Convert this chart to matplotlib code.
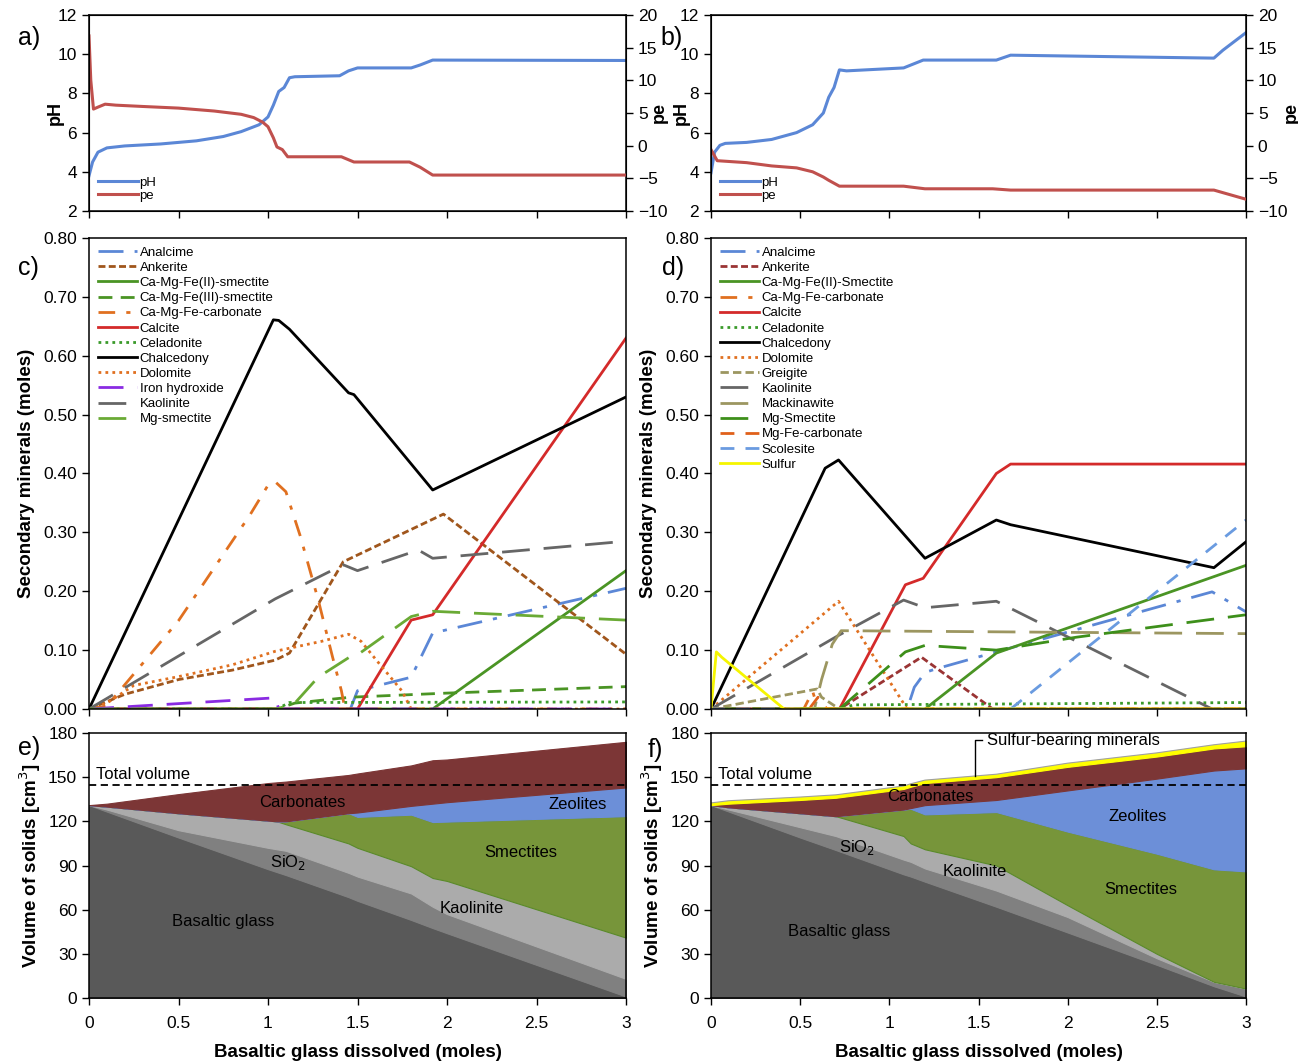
import matplotlib.pyplot as plt

plt.rcParams['font.family'] = ['Liberation Sans', 'DejaVu Sans']

# ---- a) pH / pe, case 1
a_ph_x = [0, 0.02, 0.05, 0.1, 0.2, 0.4, 0.6, 0.75, 0.85, 0.95, 1.0, 1.03, 1.06, 1.09, 1.12, 1.15, 1.4, 1.45, 1.5, 1.8, 1.85, 1.92, 3.0]
a_ph_y = [3.8, 4.5, 5.0, 5.22, 5.32, 5.42, 5.58, 5.8, 6.05, 6.4, 6.8, 7.4, 8.1, 8.3, 8.8, 8.85, 8.9, 9.15, 9.3, 9.3, 9.45, 9.7, 9.68]
a_pe_x = [0, 0.01, 0.025, 0.05, 0.09, 0.15, 0.3, 0.5, 0.7, 0.85, 0.92, 0.97, 1.0, 1.03, 1.05, 1.08, 1.11, 1.41, 1.48, 1.79, 1.85, 1.92, 3.0]
a_pe_y = [16.8, 10.0, 5.6, 5.9, 6.35, 6.2, 6.0, 5.75, 5.3, 4.8, 4.3, 3.6, 2.9, 1.2, -0.2, -0.6, -1.7, -1.7, -2.5, -2.5, -3.3, -4.5, -4.5]

# ---- b) pH / pe, case 2
b_ph_x = [0, 0.02, 0.05, 0.08, 0.2, 0.34, 0.48, 0.57, 0.63, 0.66, 0.69, 0.72, 0.76, 1.08, 1.19, 1.6, 1.68, 2.82, 2.87, 3.0]
b_ph_y = [3.95, 5.0, 5.35, 5.45, 5.5, 5.65, 6.0, 6.4, 7.0, 7.8, 8.3, 9.2, 9.15, 9.3, 9.7, 9.7, 9.95, 9.8, 10.2, 11.1]
b_pe_x = [0, 0.035, 0.2, 0.34, 0.48, 0.57, 0.63, 0.66, 0.72, 1.08, 1.2, 1.58, 1.68, 2.82, 3.0]
b_pe_y = [-0.6, -2.3, -2.6, -3.1, -3.4, -4.0, -4.8, -5.3, -6.2, -6.2, -6.6, -6.6, -6.8, -6.8, -8.2]

# ---- c) secondary minerals, case 1
c_analcime = ([0, 1.46, 1.5, 1.8, 1.92, 3.0], [0, 0, 0.031, 0.054, 0.129, 0.205])
c_ankerite = ([0, 0.2, 0.5, 0.8, 1.04, 1.12, 1.42, 1.98, 3.0], [0, 0.025, 0.05, 0.066, 0.083, 0.095, 0.25, 0.331, 0.093])
c_camgfe2 = ([0, 1.92, 3.0], [0, 0, 0.235])
c_camgfe3 = ([0, 1.05, 1.15, 1.46, 2.0, 3.0], [0, 0, 0.01, 0.02, 0.027, 0.038])
c_carbonate = ([0, 0.1, 0.5, 0.9, 1.0, 1.04, 1.1, 1.18, 1.28, 1.36, 1.41, 1.43, 3.0],
               [0, 0.005, 0.15, 0.33, 0.38, 0.386, 0.369, 0.294, 0.186, 0.089, 0.031, 0, 0])
c_calcite = ([0, 1.5, 1.8, 1.92, 3.0], [0, 0, 0.151, 0.16, 0.63])
c_celadonite = ([0, 1.05, 1.12, 3.0], [0, 0, 0.011, 0.012])
c_chalcedony = ([0, 1.03, 1.06, 1.12, 1.45, 1.48, 1.92, 3.0], [0, 0.661, 0.66, 0.645, 0.537, 0.534, 0.372, 0.53])
c_dolomite = ([0, 0.1, 0.25, 0.5, 0.8, 1.04, 1.3, 1.45, 1.52, 1.6, 1.75, 1.8, 3.0],
              [0, 0.01, 0.04, 0.055, 0.075, 0.098, 0.115, 0.127, 0.115, 0.085, 0.03, 0, 0])
c_ironhyd = ([0, 1.04, 1.06, 3.0], [0, 0.019, 0, 0])
c_kaolinite = ([0, 1.04, 1.42, 1.5, 1.84, 1.92, 3.0], [0, 0.187, 0.245, 0.235, 0.27, 0.256, 0.285])
c_mgsmectite = ([0, 1.05, 1.15, 1.28, 1.46, 1.5, 1.8, 1.92, 3.0], [0, 0, 0.01, 0.054, 0.089, 0.092, 0.157, 0.166, 0.151])

# ---- d) secondary minerals, case 2
d_analcime = ([0, 1.1, 1.14, 1.2, 1.26, 1.6, 2.81, 3.0], [0, 0, 0.037, 0.062, 0.068, 0.097, 0.199, 0.165])
d_ankerite = ([0, 0.72, 1.18, 1.58, 3.0], [0, 0, 0.088, 0, 0])
d_camgfe2 = ([0, 1.2, 1.6, 3.0], [0, 0, 0.095, 0.244])
d_carbonate = ([0, 0.52, 0.57, 0.6, 3.0], [0, 0, 0.03, 0, 0])
d_calcite = ([0, 0.72, 1.09, 1.19, 1.6, 1.68, 3.0], [0, 0, 0.211, 0.222, 0.40, 0.416, 0.416])
d_celadonite = ([0, 0.72, 0.8, 3.0], [0, 0, 0.007, 0.011])
d_chalcedony = ([0, 0.64, 0.715, 1.2, 1.6, 1.68, 2.82, 3.0], [0, 0.409, 0.423, 0.256, 0.321, 0.313, 0.24, 0.284])
d_dolomite = ([0, 0.715, 1.1, 3.0], [0, 0.183, 0, 0])
d_greigite = ([0, 0.595, 0.62, 0.72, 3.0], [0, 0.034, 0.02, 0, 0])
d_kaolinite = ([0, 0.715, 1.08, 1.2, 1.6, 2.81, 3.0], [0, 0.125, 0.185, 0.172, 0.183, 0, 0])
d_mackinawite = ([0, 0.58, 0.62, 0.68, 0.73, 3.0], [0, 0, 0.05, 0.11, 0.133, 0.128])
d_mgsmectite = ([0, 0.72, 1.09, 1.2, 1.6, 2.05, 3.0], [0, 0, 0.097, 0.108, 0.1, 0.122, 0.16])
d_mgfecarb = ([0, 0.55, 0.6, 0.65, 3.0], [0, 0, 0.02, 0, 0])
d_scolesite = ([0, 1.68, 3.0], [0, 0, 0.321])
d_sulfur = ([0, 0.03, 0.06, 0.41, 3.0], [0, 0.097, 0.088, 0, 0])

# ---- e) volume of solids, case 1 (cumulative tops)
e_x = [0, 0.1, 0.5, 1.0, 1.05, 1.1, 1.45, 1.5, 1.8, 1.92, 2.0, 3.0]
e_glass = [131, 126.6, 109, 87.5, 85.5, 83.5, 68.5, 66, 53, 47.5, 44, 1]
e_sio2 = [131, 128, 114, 102, 101, 100, 85, 82.5, 71, 62, 57, 13]
e_kaol = [131, 130, 125.5, 120.5, 120, 118, 105, 102, 89.5, 81.5, 79.5, 41]
e_smec = [131, 130, 125.5, 120.5, 120, 120, 125.5, 123, 124.5, 119.5, 119.8, 123.5]
e_zeol = [131, 130, 125.5, 120.5, 120, 120, 125.5, 126, 130.5, 132, 133, 143]
e_carb = [131, 132, 138.5, 146, 146.5, 147, 151.5, 152.5, 158, 161.5, 162, 174]

# ---- f) volume of solids, case 2 (cumulative tops)
f_x = [0, 0.1, 0.5, 0.7, 1.08, 1.12, 1.2, 1.6, 2.0, 2.5, 2.82, 3.0]
f_glass = [131, 126.6, 109, 100.5, 84, 82.5, 79, 62, 44.5, 22.5, 8, 1]
f_sio2 = [131, 128, 116, 110, 94, 92.5, 88, 73, 55, 27, 11, 6.4]
f_kaol = [131, 129.5, 125.5, 123.5, 110, 105, 101, 90, 63, 30, 11, 6.4]
f_smec = [131, 129.5, 125.5, 123.5, 128, 128.5, 124.7, 126.3, 113, 98, 87.4, 86]
f_zeol = [131, 129.5, 125.5, 123.5, 128, 129, 131, 134.5, 141, 149, 154.5, 156]
f_carb = [131, 132, 134.5, 136, 142, 143.5, 146, 150, 157, 164, 169.5, 171]
f_sulf = [132.5, 134, 136.5, 138, 144, 145.5, 148, 152, 159.5, 166.5, 172, 174.5]

total_volume = 145

BLUE = '#5b87d6'
RED = '#c0504d'
GREEN = '#4a9424'
LGREEN = '#6aaa35'
ORANGE = '#e07020'

fig = plt.figure(figsize=(12.98, 10.63), dpi=100)
W, H = 1298.0, 1063.0


def box(x0, x1, y0, y1):
    return [x0 / W, 1 - y1 / H, (x1 - x0) / W, (y1 - y0) / H]


def style(ax, xlabels=False):
    ax.set_xlim(0, 3)
    ax.set_xticks([0, 0.5, 1, 1.5, 2, 2.5, 3])
    ax.tick_params(direction='out', length=5, width=1, labelsize=12.5)
    if xlabels:
        ax.set_xticklabels(['0', '0.5', '1', '1.5', '2', '2.5', '3'])
        ax.tick_params(axis='x', pad=8)
        ax.set_xlabel('Basaltic glass dissolved (moles)', fontsize=13.5, fontweight='bold', labelpad=9)
    else:
        ax.set_xticklabels([])
    for s in ax.spines.values():
        s.set_linewidth(1.1)


# top row
cols = [(89, 626), (711, 1246)]
ph_lab = [57, 683]
pe_lab = [651, 1283]
for i, (phx, phy, pex, pey) in enumerate([(a_ph_x, a_ph_y, a_pe_x, a_pe_y),
                                          (b_ph_x, b_ph_y, b_pe_x, b_pe_y)]):
    x0, x1 = cols[i]
    ax = fig.add_axes(box(x0, x1, 15, 211))
    ax2 = ax.twinx()
    l1, = ax.plot(phx, phy, color=BLUE, lw=2.2)
    l2, = ax2.plot(pex, pey, color=RED, lw=2.2)
    ax.set_ylim(2, 12)
    ax.set_yticks(range(2, 13, 2))
    ax2.set_ylim(-10, 20)
    ax2.set_yticks(range(-10, 21, 5))
    style(ax)
    ax2.tick_params(direction='out', length=5, width=1, labelsize=12.5)
    ax.set_ylabel('pH', fontsize=13, fontweight='bold')
    ax2.set_ylabel('pe', fontsize=13, fontweight='bold')
    ax.yaxis.set_label_coords((ph_lab[i] + 7 - x0) / (x1 - x0), 0.5)
    ax2.yaxis.set_label_coords((pe_lab[i] - x0) / (x1 - x0), 0.5)
    ax.legend([l1, l2], ['pH', 'pe'], loc='lower left', frameon=False, fontsize=9.5,
              handlelength=3.0, handletextpad=0.1, labelspacing=0.05, borderaxespad=0.3)

# middle row
c_series = [
    ('Analcime', c_analcime, dict(color=BLUE, ls=(0, (9, 4, 1.5, 4)))),
    ('Ankerite', c_ankerite, dict(color='#a0561c', ls=(0, (2.5, 1.2)))),
    ('Ca-Mg-Fe(II)-smectite', c_camgfe2, dict(color=GREEN, ls='-')),
    ('Ca-Mg-Fe(III)-smectite', c_camgfe3, dict(color=GREEN, ls=(0, (5, 3)))),
    ('Ca-Mg-Fe-carbonate', c_carbonate, dict(color=ORANGE, ls=(0, (6, 4, 1.5, 4)))),
    ('Calcite', c_calcite, dict(color='#d42a2a', ls='-')),
    ('Celadonite', c_celadonite, dict(color='#3a9a2a', ls=(0, (1, 1.5)))),
    ('Chalcedony', c_chalcedony, dict(color='black', ls='-')),
    ('Dolomite', c_dolomite, dict(color=ORANGE, ls=(0, (1, 1.5)))),
    ('Iron hydroxide', c_ironhyd, dict(color='#8a2be2', ls=(0, (9, 5)))),
    ('Kaolinite', c_kaolinite, dict(color='#666666', ls=(0, (10, 5)))),
    ('Mg-smectite', c_mgsmectite, dict(color=LGREEN, ls=(0, (10, 5)))),
]
d_series = [
    ('Analcime', d_analcime, dict(color=BLUE, ls=(0, (9, 4, 1.5, 4)))),
    ('Ankerite', d_ankerite, dict(color='#9a3434', ls=(0, (2.5, 1.2)))),
    ('Ca-Mg-Fe(II)-Smectite', d_camgfe2, dict(color=GREEN, ls='-')),
    ('Ca-Mg-Fe-carbonate', d_carbonate, dict(color=ORANGE, ls=(0, (6, 4, 1.5, 4)))),
    ('Calcite', d_calcite, dict(color='#d42a2a', ls='-')),
    ('Celadonite', d_celadonite, dict(color='#3a9a2a', ls=(0, (1, 1.5)))),
    ('Chalcedony', d_chalcedony, dict(color='black', ls='-')),
    ('Dolomite', d_dolomite, dict(color=ORANGE, ls=(0, (1, 1.5)))),
    ('Greigite', d_greigite, dict(color='#9c9660', ls=(0, (3, 1.5)))),
    ('Kaolinite', d_kaolinite, dict(color='#666666', ls=(0, (10, 5)))),
    ('Mackinawite', d_mackinawite, dict(color='#9c9660', ls=(0, (10, 5)))),
    ('Mg-Smectite', d_mgsmectite, dict(color='#3d8f1a', ls=(0, (10, 5)))),
    ('Mg-Fe-carbonate', d_mgfecarb, dict(color='#e0601a', ls=(0, (5, 4)))),
    ('Scolesite', d_scolesite, dict(color='#6a9be0', ls=(0, (5, 4)))),
    ('Sulfur', d_sulfur, dict(color='#f5f500', ls='-')),
]
for i, series in enumerate([c_series, d_series]):
    ax = fig.add_axes(box(cols[i][0], cols[i][1], 238, 709))
    for name, (xs, ys), kw in series:
        ax.plot(xs, ys, lw=2, label=name, **kw)
    ax.set_ylim(0, 0.8)
    ax.set_yticks([k / 10 for k in range(9)])
    ax.set_yticklabels(['%.2f' % (k / 10) for k in range(9)])
    style(ax)
    ax.set_ylabel('Secondary minerals (moles)', fontsize=13.5, fontweight='bold', labelpad=6)
    ax.legend(loc='upper left', frameon=False, fontsize=9.5, handlelength=3.0,
              handletextpad=0.2, labelspacing=0.22, borderaxespad=0.25)

# bottom row
layer_cols = ['#595959', '#808080', '#ababab', '#77953a', '#6c8fd8', '#7c3636', '#ffff00']
for i, (xs, tops) in enumerate([(e_x, [e_glass, e_sio2, e_kaol, e_smec, e_zeol, e_carb]),
                                (f_x, [f_glass, f_sio2, f_kaol, f_smec, f_zeol, f_carb, f_sulf])]):
    ax = fig.add_axes(box(cols[i][0], cols[i][1], 733, 998))
    lower = [0] * len(xs)
    for k, top in enumerate(tops):
        ec = '#5a8a2a' if k == 3 else layer_cols[k]
        ax.fill_between(xs, lower, top, facecolor=layer_cols[k], edgecolor=ec, lw=0.8)
        lower = top
    if i == 1:
        ax.plot(xs, f_sulf, color='#a0a0a0', lw=0.8)
    ax.axhline(total_volume, color='black', ls=(0, (4, 2.5)), lw=1.3)
    ax.set_ylim(0, 180)
    ax.set_yticks(range(0, 181, 30))
    style(ax, xlabels=True)
    ax.set_ylabel('Volume of solids [cm$^3$]', fontsize=13.5, fontweight='bold')
    ax.text(0.04, 147, 'Total volume', fontsize=12, va='bottom')

ax_e, ax_f = fig.axes[-2], fig.axes[-1]
for ax, items in [(ax_e, [('Carbonates', 1.19, 133), ('Zeolites', 2.73, 131.5), ('Smectites', 2.41, 98.5),
                          ('SiO$_2$', 1.11, 92), ('Kaolinite', 2.14, 61), ('Basaltic glass', 0.75, 52)]),
                  (ax_f, [('Carbonates', 1.23, 137), ('Zeolites', 2.39, 123.6), ('Smectites', 2.41, 73.5),
                          ('SiO$_2$', 0.82, 102.5), ('Kaolinite', 1.48, 86), ('Basaltic glass', 0.72, 45)])]:
    for t, x, y in items:
        ax.text(x, y, t, fontsize=12, ha='center', va='center')
ax_f.plot([1.48, 1.48, 1.52], [151, 175, 175], color='black', lw=1)
ax_f.text(1.55, 175, 'Sulfur-bearing minerals', fontsize=12, va='center')

# panel letters
for t, x, y in [('a)', 18, 38), ('b)', 660, 38), ('c)', 18, 268), ('d)', 662, 268),
                ('e)', 18, 748), ('f)', 648, 750)]:
    fig.text(x / W, 1 - y / H, t, fontsize=18, va='center', ha='left')

fig.savefig('out.png', dpi=100)
